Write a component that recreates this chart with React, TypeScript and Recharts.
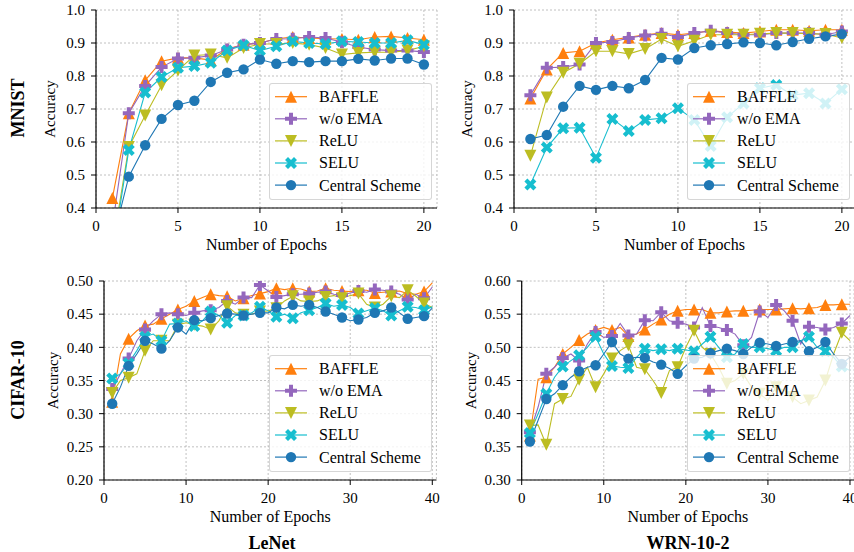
import React from "react";
import { LineChart, Line, XAxis, YAxis, CartesianGrid, Legend } from "recharts";

const FONT = "'Liberation Serif', 'Times New Roman', serif";

const seriesNames = ["BAFFLE", "w/o EMA", "ReLU", "SELU", "Central Scheme"];
const seriesColors = ["#ff7f0e", "#9467bd", "#bcbd22", "#17becf", "#1f77b4"];
const seriesMarkers = ["up", "plus", "down", "x", "circle"];

const mnistEpochs = [1, 2, 3, 4, 5, 6, 7, 8, 9, 10, 11, 12, 13, 14, 15, 16, 17, 18, 19, 20];
const cifarEpochs = [
  1, 2, 3, 4, 5, 6, 7, 8, 9, 10, 11, 12, 13, 14, 15, 16, 17, 18, 19, 20,
  21, 22, 23, 24, 25, 26, 27, 28, 29, 30, 31, 32, 33, 34, 35, 36, 37, 38, 39, 40,
];

const mnistTicksX = [0, 5, 10, 15, 20];
const cifarTicksX = [0, 10, 20, 30, 40];
const mnistTicksY = [0.4, 0.5, 0.6, 0.7, 0.8, 0.9, 1.0];
const cifarLenetTicksY = [0.2, 0.25, 0.3, 0.35, 0.4, 0.45, 0.5];
const cifarWrnTicksY = [0.3, 0.35, 0.4, 0.45, 0.5, 0.55, 0.6];

// MNIST / LeNet
const mnistLenetBaffle = [0.43, 0.687, 0.787, 0.845, 0.855, 0.855, 0.848, 0.882, 0.895, 0.9, 0.913, 0.918, 0.915, 0.913, 0.912, 0.91, 0.918, 0.92, 0.915, 0.91];
const mnistLenetNoEma = [0.345, 0.687, 0.77, 0.827, 0.853, 0.855, 0.862, 0.88, 0.895, 0.9, 0.912, 0.913, 0.918, 0.915, 0.902, 0.888, 0.88, 0.877, 0.877, 0.873];
const mnistLenetRelu = [0.28, 0.585, 0.68, 0.772, 0.817, 0.862, 0.865, 0.855, 0.885, 0.897, 0.897, 0.9, 0.895, 0.885, 0.865, 0.87, 0.872, 0.872, 0.877, 0.89];
const mnistLenetSelu = [0.256, 0.576, 0.75, 0.797, 0.825, 0.83, 0.84, 0.877, 0.893, 0.877, 0.89, 0.905, 0.9, 0.897, 0.905, 0.903, 0.9, 0.9, 0.908, 0.895];
const mnistLenetCentral = [0.297, 0.495, 0.59, 0.67, 0.712, 0.725, 0.782, 0.81, 0.82, 0.85, 0.837, 0.845, 0.842, 0.845, 0.845, 0.852, 0.847, 0.853, 0.853, 0.835];

// MNIST / WRN-10-2
const mnistWrnBaffle = [0.732, 0.82, 0.87, 0.875, 0.9, 0.91, 0.917, 0.925, 0.93, 0.925, 0.93, 0.937, 0.933, 0.93, 0.935, 0.94, 0.94, 0.937, 0.94, 0.94];
const mnistWrnNoEma = [0.742, 0.825, 0.827, 0.835, 0.9, 0.903, 0.915, 0.923, 0.928, 0.918, 0.93, 0.937, 0.93, 0.925, 0.925, 0.93, 0.93, 0.93, 0.925, 0.935];
const mnistWrnRelu = [0.558, 0.735, 0.81, 0.837, 0.875, 0.875, 0.867, 0.882, 0.912, 0.89, 0.907, 0.925, 0.925, 0.925, 0.928, 0.93, 0.93, 0.928, 0.927, 0.915];
const mnistWrnSelu = [0.471, 0.583, 0.642, 0.643, 0.552, 0.67, 0.633, 0.667, 0.672, 0.702, 0.667, 0.588, 0.675, 0.717, 0.763, 0.773, 0.742, 0.748, 0.717, 0.76];
const mnistWrnCentral = [0.609, 0.621, 0.707, 0.77, 0.758, 0.77, 0.763, 0.788, 0.855, 0.85, 0.885, 0.893, 0.897, 0.902, 0.9, 0.893, 0.903, 0.913, 0.92, 0.927];

// CIFAR-10 / LeNet
const cifarLenetBaffle = [0.318, 0.39, 0.413, 0.425, 0.433, 0.435, 0.443, 0.45, 0.457, 0.462, 0.47, 0.475, 0.48, 0.478, 0.477, 0.47, 0.474, 0.478, 0.481, 0.484, 0.489, 0.487, 0.489, 0.488, 0.484, 0.485, 0.489, 0.486, 0.485, 0.484, 0.486, 0.486, 0.482, 0.483, 0.484, 0.485, 0.481, 0.48, 0.484, 0.497];
const cifarLenetNoEma = [0.337, 0.36, 0.383, 0.41, 0.427, 0.44, 0.45, 0.452, 0.45, 0.448, 0.452, 0.455, 0.456, 0.46, 0.47, 0.465, 0.475, 0.475, 0.494, 0.485, 0.476, 0.478, 0.48, 0.48, 0.481, 0.483, 0.484, 0.48, 0.479, 0.482, 0.485, 0.483, 0.487, 0.486, 0.484, 0.48, 0.472, 0.48, 0.474, 0.491];
const cifarLenetRelu = [0.331, 0.35, 0.354, 0.36, 0.395, 0.41, 0.41, 0.41, 0.434, 0.437, 0.434, 0.432, 0.427, 0.44, 0.462, 0.452, 0.449, 0.45, 0.454, 0.455, 0.459, 0.47, 0.477, 0.47, 0.469, 0.47, 0.476, 0.478, 0.474, 0.478, 0.481, 0.465, 0.46, 0.465, 0.477, 0.475, 0.486, 0.477, 0.466, 0.46];
const cifarLenetSelu = [0.353, 0.36, 0.376, 0.395, 0.416, 0.42, 0.41, 0.435, 0.436, 0.44, 0.432, 0.44, 0.454, 0.448, 0.437, 0.448, 0.448, 0.452, 0.461, 0.455, 0.446, 0.45, 0.444, 0.452, 0.456, 0.46, 0.466, 0.462, 0.464, 0.46, 0.451, 0.455, 0.459, 0.455, 0.448, 0.455, 0.461, 0.46, 0.456, 0.461];
const cifarLenetCentral = [0.315, 0.34, 0.372, 0.39, 0.41, 0.405, 0.398, 0.41, 0.43, 0.42, 0.441, 0.44, 0.444, 0.448, 0.451, 0.45, 0.448, 0.45, 0.452, 0.452, 0.46, 0.458, 0.464, 0.462, 0.464, 0.46, 0.454, 0.45, 0.445, 0.44, 0.442, 0.445, 0.452, 0.455, 0.46, 0.452, 0.443, 0.445, 0.447, 0.459];

// CIFAR-10 / WRN-10-2
const cifarWrnBaffle = [0.367, 0.452, 0.455, 0.47, 0.49, 0.5, 0.511, 0.52, 0.526, 0.53, 0.526, 0.53, 0.517, 0.52, 0.527, 0.535, 0.542, 0.55, 0.555, 0.557, 0.557, 0.557, 0.552, 0.552, 0.554, 0.555, 0.555, 0.556, 0.557, 0.557, 0.557, 0.558, 0.559, 0.558, 0.559, 0.56, 0.564, 0.564, 0.565, 0.565];
const cifarWrnNoEma = [0.372, 0.41, 0.46, 0.47, 0.484, 0.49, 0.48, 0.505, 0.523, 0.515, 0.517, 0.536, 0.518, 0.52, 0.541, 0.54, 0.553, 0.54, 0.537, 0.535, 0.53, 0.56, 0.532, 0.53, 0.526, 0.52, 0.503, 0.515, 0.554, 0.545, 0.564, 0.555, 0.54, 0.505, 0.531, 0.53, 0.527, 0.53, 0.536, 0.548];
const cifarWrnRelu = [0.382, 0.383, 0.353, 0.415, 0.422, 0.426, 0.451, 0.47, 0.44, 0.46, 0.483, 0.495, 0.503, 0.47, 0.467, 0.45, 0.431, 0.465, 0.47, 0.5, 0.525, 0.5, 0.49, 0.47, 0.445, 0.45, 0.46, 0.44, 0.43, 0.42, 0.44, 0.435, 0.425, 0.415, 0.42, 0.425, 0.45, 0.49, 0.522, 0.51];
const cifarWrnSelu = [0.371, 0.4, 0.43, 0.455, 0.471, 0.48, 0.488, 0.5, 0.516, 0.49, 0.472, 0.47, 0.469, 0.485, 0.498, 0.495, 0.497, 0.495, 0.498, 0.496, 0.494, 0.505, 0.516, 0.5, 0.485, 0.49, 0.505, 0.5, 0.5, 0.498, 0.495, 0.5, 0.5, 0.51, 0.516, 0.5, 0.494, 0.485, 0.471, 0.465];
const cifarWrnCentral = [0.358, 0.39, 0.422, 0.43, 0.443, 0.455, 0.464, 0.47, 0.473, 0.49, 0.508, 0.49, 0.483, 0.485, 0.484, 0.478, 0.474, 0.468, 0.46, 0.472, 0.483, 0.485, 0.491, 0.495, 0.498, 0.495, 0.49, 0.5, 0.507, 0.505, 0.502, 0.505, 0.508, 0.51, 0.494, 0.5, 0.508, 0.49, 0.475, 0.485];

type Row = { epoch: number; [key: string]: number };

function buildRows(epochs: number[], series: number[][]): Row[] {
  return epochs.map((epoch, i) => {
    const row: Row = { epoch };
    series.forEach((values, s) => {
      row[`s${s}`] = values[i];
    });
    return row;
  });
}

const PLUS_PTS = [[-1, -3], [-1, -1], [-3, -1], [-3, 1], [-1, 1], [-1, 3], [1, 3], [1, 1], [3, 1], [3, -1], [1, -1], [1, -3]];
const X_PTS = [[-1, -2], [0, -1], [1, -2], [2, -1], [1, 0], [2, 1], [1, 2], [0, 1], [-1, 2], [-2, 1], [-1, 0], [-2, -1]];

function Marker({ shape, cx, cy, color }: { shape: string; cx: number; cy: number; color: string }) {
  const s = 6;
  if (shape === "circle") return <circle cx={cx} cy={cy} r={5.2} fill={color} />;
  if (shape === "up")
    return <polygon points={`${cx},${cy - s} ${cx - s},${cy + s} ${cx + s},${cy + s}`} fill={color} />;
  if (shape === "down")
    return <polygon points={`${cx},${cy + s} ${cx - s},${cy - s} ${cx + s},${cy - s}`} fill={color} />;
  const pts = shape === "plus" ? PLUS_PTS.map(([x, y]) => [x * s / 3, y * s / 3]) : X_PTS.map(([x, y]) => [x * s / 2, y * s / 2]);
  return <polygon points={pts.map(([x, y]) => `${cx + x},${cy + y}`).join(" ")} fill={color} />;
}

// legend keeps the plotting order, not recharts' sorted payload order
function LegendBox({ payload }: any) {
  const shown = new Set(((payload || []) as any[]).map((e) => e.value));
  const entries = seriesNames.filter((n) => shown.has(n));
  return (
    <div
      style={{
        width: 163,
        height: 117,
        boxSizing: "border-box",
        background: "rgba(255,255,255,0.8)",
        border: "1px solid rgba(204,204,204,0.8)",
        borderRadius: 3,
      }}
    >
      <svg width={161} height={115} style={{ display: "block" }}>
        {entries.map((name, i) => {
          const idx = seriesNames.indexOf(name);
          const y = 12.7 + i * 22.1;
          return (
            <g key={name}>
              <line x1={5} x2={37} y1={y} y2={y} stroke={seriesColors[idx]} strokeWidth={1.2} />
              <Marker shape={seriesMarkers[idx]} cx={21} cy={y} color={seriesColors[idx]} />
              <text x={49} y={y + 5.4} fontFamily={FONT} fontSize={16} fill="#000">
                {name}
              </text>
            </g>
          );
        })}
      </svg>
    </div>
  );
}

type PanelProps = {
  rows: Row[];
  left: number;
  top: number;
  width: number;
  height: number;
  margin: { top: number; right: number; bottom: number; left: number };
  yAxisWidth: number;
  xDomain: number[];
  xTicks: number[];
  yDomain: number[];
  yTicks: number[];
  digits: number;
  yLabelOffset: number;
  sparse: boolean;
  legendLeft: number;
  legendTop: number;
};

function Panel(p: PanelProps) {
  const renderDot = (shape: string, color: string) => (props: any) => {
    const { cx, cy, index, payload } = props;
    if (cx == null || cy == null || (p.sparse && payload.epoch % 2 === 0)) return <g key={`d-${index}`} />;
    return <Marker key={`d-${index}`} shape={shape} cx={cx} cy={cy} color={color} />;
  };
  const tickStyle = { fill: "#000", fontSize: 15, fontFamily: FONT };
  return (
    <div style={{ position: "absolute", left: p.left, top: p.top }}>
      <LineChart width={p.width} height={p.height} data={p.rows} margin={p.margin}>
        <CartesianGrid stroke="#b0b0b0" strokeDasharray="2 2" strokeWidth={0.8} />
        <XAxis
          dataKey="epoch"
          type="number"
          domain={p.xDomain}
          ticks={p.xTicks}
          allowDataOverflow
          height={42}
          tickSize={5}
          tickMargin={7}
          tick={tickStyle}
          axisLine={{ stroke: "#000", strokeWidth: 1.2 }}
          tickLine={{ stroke: "#000", strokeWidth: 1 }}
          label={{ value: "Number of Epochs", position: "insideBottom", offset: 0, fill: "#000", fontSize: 16, fontFamily: FONT }}
        />
        <YAxis
          type="number"
          domain={p.yDomain}
          ticks={p.yTicks}
          allowDataOverflow
          width={p.yAxisWidth}
          tickSize={5}
          tickMargin={6}
          tick={tickStyle}
          tickFormatter={(v: number) => v.toFixed(p.digits)}
          axisLine={{ stroke: "#000", strokeWidth: 1.2 }}
          tickLine={{ stroke: "#000", strokeWidth: 1 }}
          label={{
            value: "Accuracy",
            angle: -90,
            position: "insideLeft",
            offset: p.yLabelOffset,
            style: { textAnchor: "middle" },
            fill: "#000",
            fontSize: 15,
            fontFamily: FONT,
          }}
        />
        {seriesNames.map((name, i) => (
          <Line
            key={name}
            type="linear"
            dataKey={`s${i}`}
            name={name}
            stroke={seriesColors[i]}
            strokeWidth={1.1}
            dot={renderDot(seriesMarkers[i], seriesColors[i])}
            activeDot={false}
            isAnimationActive={false}
          />
        ))}
        <Legend
          layout="vertical"
          align="center"
          verticalAlign="middle"
          wrapperStyle={{ left: p.legendLeft, top: p.legendTop, width: 163, height: 117 }}
          content={(props: any) => <LegendBox payload={props.payload} />}
        />
      </LineChart>
    </div>
  );
}

const mnistLenetRows = buildRows(mnistEpochs, [mnistLenetBaffle, mnistLenetNoEma, mnistLenetRelu, mnistLenetSelu, mnistLenetCentral]);
const mnistWrnRows = buildRows(mnistEpochs, [mnistWrnBaffle, mnistWrnNoEma, mnistWrnRelu, mnistWrnSelu, mnistWrnCentral]);
const cifarLenetRows = buildRows(cifarEpochs, [cifarLenetBaffle, cifarLenetNoEma, cifarLenetRelu, cifarLenetSelu, cifarLenetCentral]);
const cifarWrnRows = buildRows(cifarEpochs, [cifarWrnBaffle, cifarWrnNoEma, cifarWrnRelu, cifarWrnSelu, cifarWrnCentral]);

export default function App() {
  return (
    <div style={{ position: "absolute", left: 0, top: 0, width: 854, height: 552, overflow: "hidden", background: "#fff" }}>
      <Panel
        rows={mnistLenetRows}
        left={0}
        top={0}
        width={440}
        height={260}
        margin={{ top: 10, right: 3, bottom: 10, left: 0 }}
        yAxisWidth={96}
        xDomain={[0, 20.8]}
        xTicks={mnistTicksX}
        yDomain={[0.4, 1.0]}
        yTicks={mnistTicksY}
        digits={1}
        yLabelOffset={50}
        sparse={false}
        legendLeft={269}
        legendTop={83}
      />
      <Panel
        rows={mnistWrnRows}
        left={440}
        top={0}
        width={418}
        height={260}
        margin={{ top: 10, right: 3, bottom: 10, left: 0 }}
        yAxisWidth={74}
        xDomain={[0, 20.8]}
        xTicks={mnistTicksX}
        yDomain={[0.4, 1.0]}
        yTicks={mnistTicksY}
        digits={1}
        yLabelOffset={27}
        sparse={false}
        legendLeft={247}
        legendTop={83}
      />
      <Panel
        rows={cifarLenetRows}
        left={0}
        top={260}
        width={440}
        height={292}
        margin={{ top: 21, right: 3.6, bottom: 30, left: 0 }}
        yAxisWidth={104}
        xDomain={[0, 40.5]}
        xTicks={cifarTicksX}
        yDomain={[0.2, 0.5]}
        yTicks={cifarLenetTicksY}
        digits={2}
        yLabelOffset={53}
        sparse={true}
        legendLeft={269}
        legendTop={95}
      />
      <Panel
        rows={cifarWrnRows}
        left={440}
        top={260}
        width={420}
        height={292}
        margin={{ top: 21, right: 5.9, bottom: 30, left: 0 }}
        yAxisWidth={81.7}
        xDomain={[0, 40.5]}
        xTicks={cifarTicksX}
        yDomain={[0.3, 0.6]}
        yTicks={cifarWrnTicksY}
        digits={2}
        yLabelOffset={31}
        sparse={true}
        legendLeft={247}
        legendTop={95}
      />
      <svg width={854} height={552} style={{ position: "absolute", left: 0, top: 0, pointerEvents: "none" }}>
        <g fontFamily={FONT} fontWeight="bold" fontSize={18} fill="#000" textAnchor="middle">
          <text transform="translate(24,108) rotate(-90)">MNIST</text>
          <text transform="translate(24,380) rotate(-90)">CIFAR-10</text>
          <text x={272} y={549}>LeNet</text>
          <text x={688} y={549}>WRN-10-2</text>
        </g>
      </svg>
    </div>
  );
}
